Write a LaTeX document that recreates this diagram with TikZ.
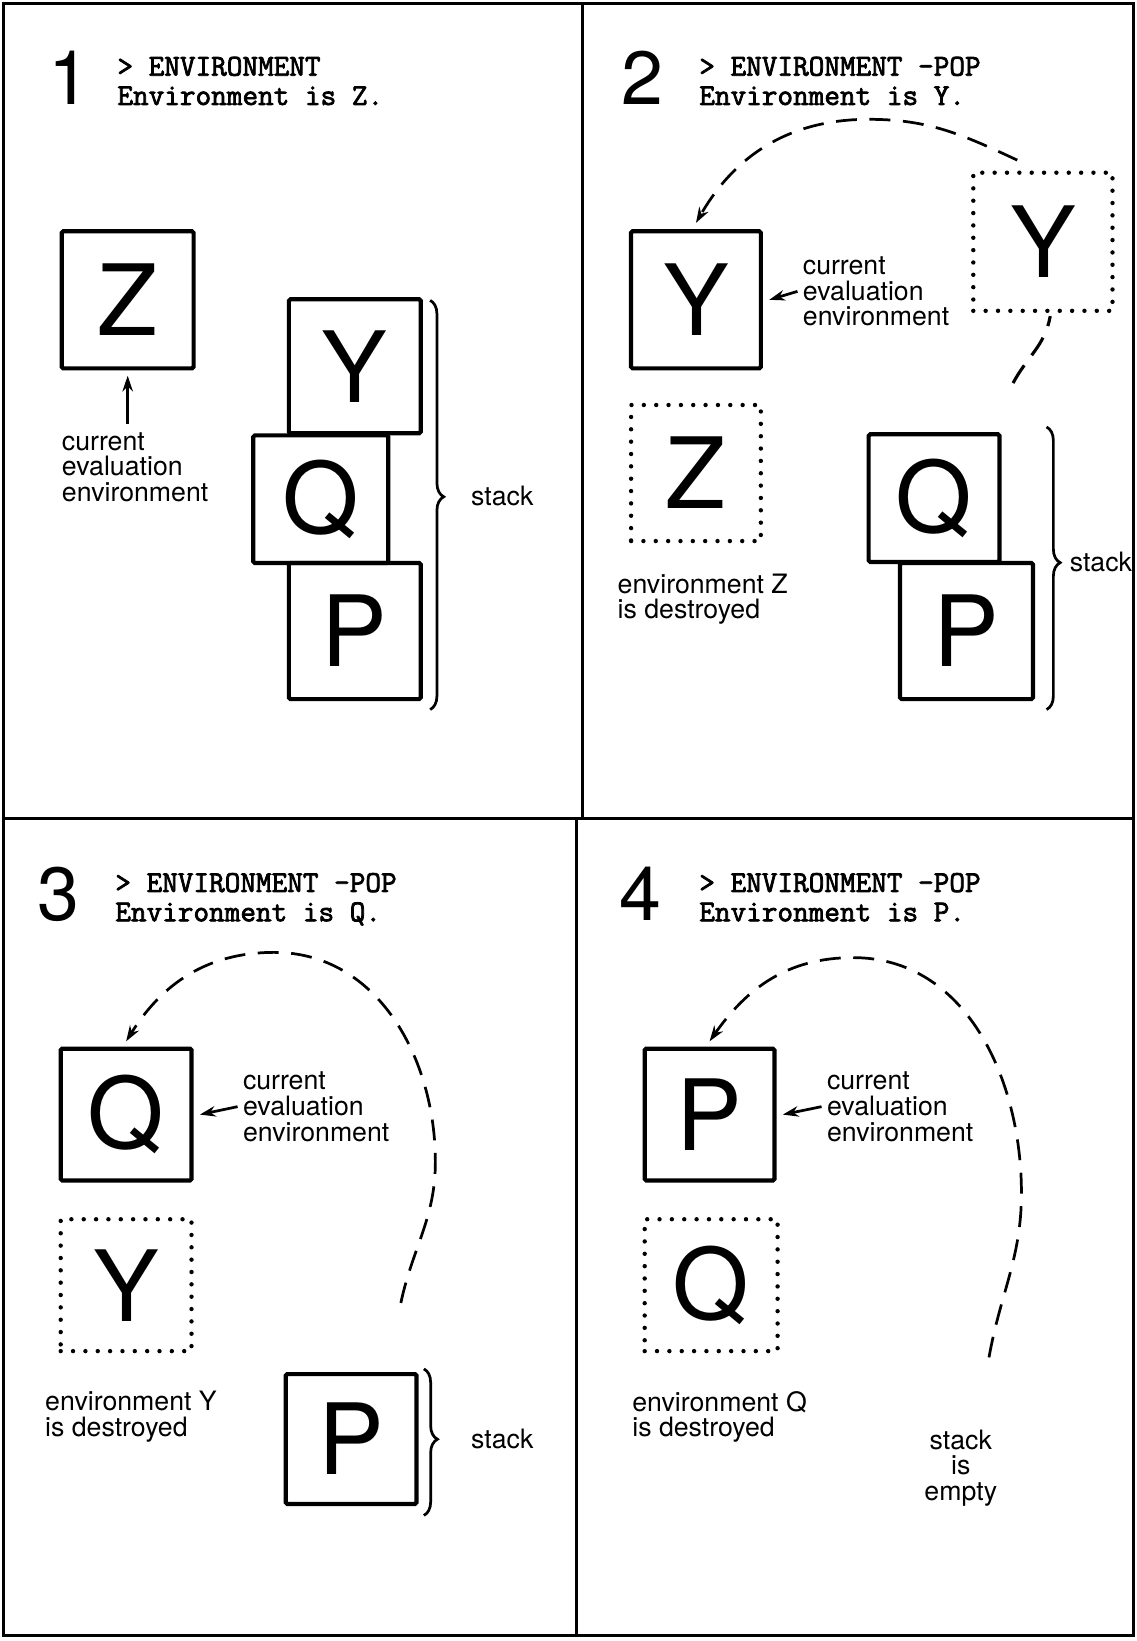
\documentclass[tikz,border=0pt]{standalone}
\usepackage{fontspec}
\setmainfont{TeX Gyre Heros}
\setmonofont{Latin Modern Mono}[FakeBold=2.5]
\usetikzlibrary{arrows.meta,decorations.pathreplacing}

\tikzset{
  frame/.style={line width=2.8pt},
  env/.style={draw, line width=4pt, rounded corners=1.5pt, minimum width=126pt,
    minimum height=128pt, inner sep=0pt, font=\fontsize{94}{94}\selectfont},
  ghost/.style={env, rounded corners=0pt, line width=4.2pt,
    dash pattern=on 0pt off 11.8pt, line cap=round},
  digit/.style={font=\fontsize{72}{72}\selectfont, inner sep=0pt, anchor=base west},
  cmd/.style={font=\fontsize{29}{28}\ttfamily\bfseries,
    align=left, inner sep=0pt, anchor=north west},
  lbl/.style={font=\fontsize{25.5}{24.5}\selectfont, align=left, inner sep=0pt, anchor=north west},
  arr/.style={-{Stealth[length=15pt,width=10pt]}, line width=2.6pt},
  dsh/.style={line width=3pt, dash pattern=on 20pt off 12pt},
  brc/.style={decorate, decoration={brace, amplitude=13pt, aspect=0.48}, line width=2.6pt},
}

\begin{document}
\begin{tikzpicture}[x=1pt,y=1pt]
\useasboundingbox (0,0) rectangle (1086,-1568);

% outer frame and panel dividers
\draw[frame] (3,-3) rectangle (1083,-1563);
\draw[frame] (557,-3) -- (557,-782);
\draw[frame] (551,-782) -- (551,-1563);
\draw[frame] (3,-782) -- (1083,-782);

% ---------- panel 1 ----------
\node[digit] (d1) at (46,-100) {1};
\node[cmd] (c1) at (112,-54) {> ENVIRONMENT\\Environment is Z.};
\node[env, minimum height=131pt] (z1) at (122,-286.5) {Z};
\node[env] (y1) at (339,-350) {Y};
\node[env, minimum width=129pt, minimum height=122pt] (q1) at (306.5,-477) {Q};
\node[env, minimum height=130pt] (p1) at (339,-603) {P};
\node[lbl] (t1) at (59,-413) {current\\evaluation\\environment};
\draw[arr] ([yshift=8pt]t1.north -| z1.south) -- ([yshift=-5pt]z1.south);
\draw[brc] (411,-287) -- (411,-678);
\node[lbl, anchor=west] (s1) at (450,-474) {stack};

% ---------- panel 2 ----------
\node[digit] (d2) at (594,-100) {2};
\node[cmd] (c2) at (668,-54) {> ENVIRONMENT -POP\\Environment is Y.};
\node[env, minimum width=124pt, minimum height=131pt] (y2) at (665,-286.5) {Y};
\node[ghost, minimum width=133pt, minimum height=132pt] (yg2) at (996.5,-231) {Y};
\node[ghost, minimum width=124pt, minimum height=130pt] (zg2) at (665,-452) {Z};
\node[env, minimum width=125pt, minimum height=122pt] (q2) at (892.5,-476) {Q};
\node[env, minimum width=127pt, minimum height=130pt] (p2) at (923.5,-603) {P};
\node[lbl] (t2) at (767,-245) {current\\evaluation\\environment};
\draw[arr] ([xshift=-5pt]t2.west) -- ([xshift=6pt]y2.east);
\node[lbl] (g2) at (590,-548) {environment Z\\is destroyed};
\draw[brc] (1000,-408) -- (1000,-678);
\node[lbl, anchor=west] (s2) at (1022,-537) {stack};
\coordinate (u2) at (972,-153);
\coordinate (h2) at (830,-114);
\coordinate (l2) at (968,-366);
\draw[dsh, arr] (u2) to[out=155,in=0] (h2) to[out=180,in=60] ([yshift=6pt]y2.north);
\draw[dsh] (l2) to[out=62,in=-100] ([xshift=7pt,yshift=-3pt]yg2.south);

% ---------- panel 3 ----------
\node[digit] (d3) at (36,-880) {3};
\node[cmd] (c3) at (110,-834) {> ENVIRONMENT -POP\\Environment is Q.};
\node[env, minimum width=125pt, minimum height=126pt] (q3) at (120.5,-1065) {Q};
\node[ghost, minimum width=125pt, minimum height=126pt] (yg3) at (120.5,-1228) {Y};
\node[env, minimum width=125pt, minimum height=124pt] (p3) at (335.5,-1375) {P};
\node[lbl] (t3) at (232,-1024) {current\\evaluation\\environment};
\draw[arr] ([xshift=-5pt]t3.west) -- ([xshift=6pt]q3.east);
\node[lbl] (g3) at (43,-1329) {environment Y\\is destroyed};
\draw[brc] (405,-1308) -- (405,-1448);
\node[lbl, anchor=west] (s3) at (450,-1375) {stack};
\coordinate (l3) at (383,-1245);
\coordinate (r3) at (416,-1110);
\coordinate (h3) at (262,-910);
\draw[dsh, arr] (l3) to[out=78,in=-90] (r3) to[out=90,in=0] (h3)
  to[out=180,in=58] ([yshift=5pt]q3.north);

% ---------- panel 4 ----------
\node[digit] (d4) at (592,-880) {4};
\node[cmd] (c4) at (668,-834) {> ENVIRONMENT -POP\\Environment is P.};
\node[env, minimum width=124pt, minimum height=126pt] (p4) at (678,-1065) {P};
\node[ghost, minimum width=127pt, minimum height=126pt] (qg4) at (679.5,-1228) {Q};
\node[lbl] (t4) at (790,-1024) {current\\evaluation\\environment};
\draw[arr] ([xshift=-5pt]t4.west) -- ([xshift=6pt]p4.east);
\node[lbl] (g4) at (604,-1329) {environment Q\\is destroyed};
\node[lbl, align=center, anchor=north] (e4) at (918,-1366) {stack\\is\\empty};
\coordinate (l4) at (945,-1297);
\coordinate (r4) at (976,-1140);
\coordinate (h4) at (815,-915);
\draw[dsh, arr] (l4) to[out=80,in=-90] (r4) to[out=90,in=0] (h4)
  to[out=180,in=55] ([yshift=5pt]p4.north);
\end{tikzpicture}
\end{document}
